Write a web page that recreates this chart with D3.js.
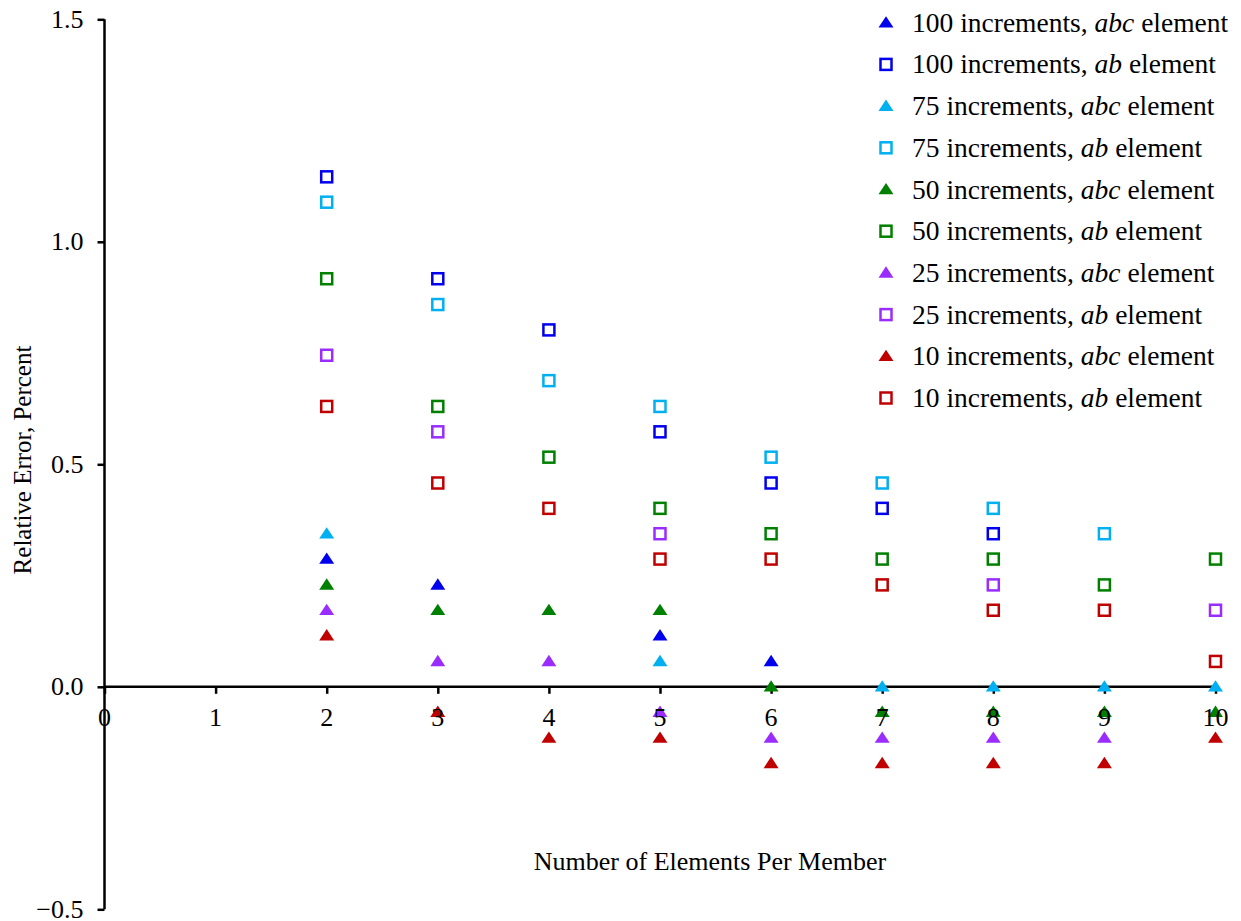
<!DOCTYPE html>
<html lang="en">
<head>
    <meta charset="UTF-8">
    <title>Relative Error vs Elements Per Member</title>
    <style>
        body {
            margin: 0;
            background-color: white;
        }
        svg {
            display: block;
        }
        svg text {
            font-family: "Liberation Serif", "Times New Roman", "DejaVu Serif", serif;
            fill: #000;
        }
    </style>
</head>
<body>
    <div id="chart"></div>

    <script src="https://d3js.org/d3.v7.min.js"></script>
    <script>
        // number of elements per member
        const elements = [2, 3, 4, 5, 6, 7, 8, 9, 10];

        // relative error, percent (null = no point shown)
        const inc100abc = [0.287, 0.229, null, 0.115, 0.057, null, null, null, null];
        const inc100ab  = [1.146, 0.917, 0.802, 0.573, 0.458, 0.401, 0.344, null, null];
        const inc75abc  = [0.344, null, null, 0.057, null, 0.0, 0.0, 0.0, 0.0];
        const inc75ab   = [1.089, 0.859, 0.688, 0.630, 0.516, 0.458, 0.401, 0.344, null];
        const inc50abc  = [0.229, 0.172, 0.172, 0.172, 0.0, -0.057, -0.057, -0.057, -0.057];
        const inc50ab   = [0.917, 0.630, 0.516, 0.401, 0.344, 0.287, 0.287, 0.229, 0.287];
        const inc25abc  = [0.172, 0.057, 0.057, -0.057, -0.115, -0.115, -0.115, -0.115, null];
        const inc25ab   = [0.745, 0.573, null, 0.344, null, null, 0.229, null, 0.172];
        const inc10abc  = [0.115, -0.057, -0.115, -0.115, -0.172, -0.172, -0.172, -0.172, -0.115];
        const inc10ab   = [0.630, 0.458, 0.401, 0.287, 0.287, 0.229, 0.172, 0.172, 0.057];

        const xTicks = [0, 1, 2, 3, 4, 5, 6, 7, 8, 9, 10];
        const yTicks = [-0.5, 0.0, 0.5, 1.0, 1.5];

        const series = [
            { n: '100', kind: 'abc', color: '#0000ee', values: inc100abc },
            { n: '100', kind: 'ab',  color: '#0000ee', values: inc100ab },
            { n: '75',  kind: 'abc', color: '#00b0f0', values: inc75abc },
            { n: '75',  kind: 'ab',  color: '#00b0f0', values: inc75ab },
            { n: '50',  kind: 'abc', color: '#008000', values: inc50abc },
            { n: '50',  kind: 'ab',  color: '#008000', values: inc50ab },
            { n: '25',  kind: 'abc', color: '#9a2cff', values: inc25abc },
            { n: '25',  kind: 'ab',  color: '#9a2cff', values: inc25ab },
            { n: '10',  kind: 'abc', color: '#c00000', values: inc10abc },
            { n: '10',  kind: 'ab',  color: '#c00000', values: inc10ab }
        ];

        const width = 1241;
        const height = 921;

        const x = d3.scaleLinear().domain([0, 10]).range([104.5, 1215.5]);
        const y = d3.scaleLinear().domain([-0.5, 1.5]).range([909.3, 19.3]);

        const svg = d3.select('#chart')
            .append('svg')
            .attr('width', width)
            .attr('height', height);

        const tri = d3.symbol().type(d3.symbolTriangle).size(88);

        function drawMarker(sel, kind, color) {
            if (kind === 'abc') {
                sel.append('path')
                    .attr('d', tri)
                    .attr('transform', 'translate(0,1) scale(1.05,0.92)')
                    .attr('fill', color);
            } else {
                sel.append('rect')
                    .attr('x', -5.5).attr('y', -5.5)
                    .attr('width', 11).attr('height', 11)
                    .attr('fill', 'white')
                    .attr('stroke', color)
                    .attr('stroke-width', 2.5);
            }
        }

        // axis lines and ticks (x labels drawn later, on top of the markers)
        const xAxis = svg.append('g')
            .attr('transform', `translate(0,${y(0)})`)
            .call(d3.axisBottom(x).tickValues(xTicks).tickSize(7).tickFormat(''));
        const yAxis = svg.append('g')
            .attr('transform', `translate(${x(0)},0)`)
            .call(d3.axisLeft(y).tickValues(yTicks).tickSize(7).tickFormat(d3.format('.1f')));

        [xAxis, yAxis].forEach(g => {
            g.attr('font-family', null);
            g.select('.domain').attr('stroke', '#000').attr('stroke-width', 2.5);
            g.selectAll('.tick line').attr('stroke', '#000').attr('stroke-width', 2.5);
        });
        yAxis.select('.domain').attr('d', `M0,${y(-0.5)}V${y(1.5)}`);
        xAxis.select('.domain').attr('d', `M${x(0)},0H${x(10)}`);
        yAxis.selectAll('.tick text')
            .attr('x', -21)
            .attr('dy', '0.3em')
            .attr('font-size', 26);

        // markers
        series.forEach(s => {
            const pts = elements.map((e, i) => ({ e, v: s.values[i] })).filter(d => d.v !== null);
            svg.append('g')
                .selectAll('g')
                .data(pts)
                .join('g')
                .attr('transform', d => `translate(${x(d.e)},${y(d.v)})`)
                .each(function() { drawMarker(d3.select(this), s.kind, s.color); });
        });

        // x tick labels
        svg.append('g')
            .selectAll('text')
            .data(xTicks)
            .join('text')
            .attr('x', d => x(d))
            .attr('y', y(0) + 39)
            .attr('text-anchor', 'middle')
            .attr('font-size', 26)
            .text(d => d);

        // axis titles
        svg.append('text')
            .attr('x', 710)
            .attr('y', 870)
            .attr('text-anchor', 'middle')
            .attr('font-size', 26)
            .text('Number of Elements Per Member');

        svg.append('text')
            .attr('transform', 'translate(31,460) rotate(-90)')
            .attr('text-anchor', 'middle')
            .attr('font-size', 25)
            .text('Relative Error, Percent');

        // legend
        const legend = svg.append('g');
        const rows = legend.selectAll('g')
            .data(series)
            .join('g')
            .attr('transform', (d, i) => `translate(886,${22.7 + i * 41.7})`);

        rows.each(function(d) { drawMarker(d3.select(this), d.kind, d.color); });

        const label = rows.append('text')
            .attr('x', 26)
            .attr('y', 9)
            .attr('font-size', 27.5);
        label.append('tspan').text(d => d.n + ' increments, ');
        label.append('tspan').attr('font-style', 'italic').text(d => d.kind);
        label.append('tspan').text(' element');
    </script>
</body>
</html>
